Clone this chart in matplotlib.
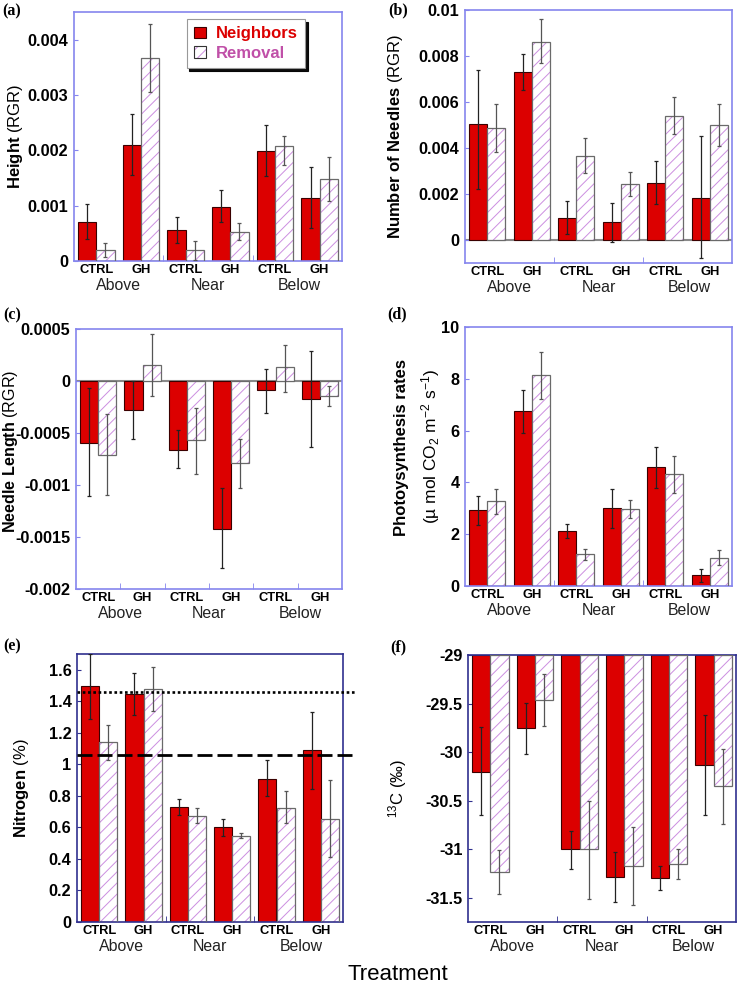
import matplotlib.pyplot as plt
import matplotlib.transforms as mtransforms
from matplotlib.patches import Patch
import numpy as np

plt.rcParams['font.family'] = ['Liberation Sans', 'DejaVu Sans']
plt.rcParams['mathtext.fontset'] = 'custom'
plt.rcParams['mathtext.rm'] = 'Liberation Sans'
plt.rcParams['mathtext.bf'] = 'Liberation Sans:bold'
plt.rcParams['mathtext.it'] = 'Liberation Sans:italic'
plt.rcParams['hatch.linewidth'] = 0.7

positions = ['Above', 'Near', 'Below']
treatments = ['CTRL', 'GH', 'CTRL', 'GH', 'CTRL', 'GH']

# (a) height RGR
height_nb = [0.0007, 0.0021, 0.00056, 0.00098, 0.00199, 0.00113]
height_nb_lo = [0.00039, 0.00156, 0.00032, 0.0007, 0.00154, 0.00059]
height_nb_hi = [0.00103, 0.00265, 0.0008, 0.00128, 0.00246, 0.00169]
height_rm = [0.0002, 0.00367, 0.0002, 0.00052, 0.00208, 0.00148]
height_rm_lo = [0.00007, 0.00306, 0.00002, 0.00038, 0.00173, 0.00109]
height_rm_hi = [0.00032, 0.00428, 0.00037, 0.00068, 0.00226, 0.00188]

# (b) number of needles RGR
needles_nb = [0.00504, 0.0073, 0.00096, 0.00079, 0.0025, 0.00183]
needles_nb_lo = [0.00222, 0.0065, 0.00024, -0.00007, 0.00158, -0.00079]
needles_nb_hi = [0.00741, 0.00809, 0.00168, 0.00161, 0.00342, 0.00452]
needles_rm = [0.00485, 0.00863, 0.00365, 0.00243, 0.00541, 0.00499]
needles_rm_lo = [0.00381, 0.00768, 0.00291, 0.00193, 0.0046, 0.00409]
needles_rm_hi = [0.0059, 0.0096, 0.00442, 0.00294, 0.00622, 0.0059]

# (c) needle length RGR
length_nb = [-0.0006, -0.00028, -0.00066, -0.00142, -0.00009, -0.000175]
length_nb_lo = [-0.00111, -0.00056, -0.00084, -0.0018, -0.00031, -0.00063]
length_nb_hi = [-0.00007, 0.0, -0.00047, -0.00103, 0.00012, 0.00029]
length_rm = [-0.000714, 0.000156, -0.00057, -0.00079, 0.00013, -0.00014]
length_rm_lo = [-0.0011, -0.00014, -0.00089, -0.00103, -0.00011, -0.00024]
length_rm_hi = [-0.00032, 0.00045, -0.00026, -0.00056, 0.00035, -0.00005]

# (d) photosynthesis
photo_nb = [2.92, 6.76, 2.12, 3.0, 4.6, 0.41]
photo_nb_lo = [2.34, 5.92, 1.84, 2.25, 3.8, 0.17]
photo_nb_hi = [3.49, 7.57, 2.41, 3.76, 5.37, 0.64]
photo_rm = [3.27, 8.15, 1.22, 2.96, 4.31, 1.09]
photo_rm_lo = [2.77, 7.22, 1.02, 2.64, 3.6, 0.81]
photo_rm_hi = [3.76, 9.05, 1.42, 3.31, 5.02, 1.39]

# (e) nitrogen
nitro_nb = [1.495, 1.444, 0.727, 0.6, 0.91, 1.088]
nitro_nb_lo = [1.29, 1.31, 0.68, 0.548, 0.8, 0.845]
nitro_nb_hi = [1.70, 1.58, 0.78, 0.655, 1.026, 1.33]
nitro_rm = [1.14, 1.48, 0.674, 0.548, 0.725, 0.653]
nitro_rm_lo = [1.03, 1.34, 0.63, 0.535, 0.625, 0.41]
nitro_rm_hi = [1.25, 1.62, 0.72, 0.565, 0.83, 0.9]
nitro_dotted = 1.458
nitro_dashed = 1.06

# (f) 13C
c13_nb = [-30.2, -29.757, -31.0, -31.29, -31.3, -30.13]
c13_nb_lo = [-30.647, -30.02, -31.2, -31.54, -31.42, -30.65]
c13_nb_hi = [-29.746, -29.49, -30.81, -31.03, -31.17, -29.62]
c13_rm = [-31.24, -29.464, -31.0, -31.17, -31.15, -30.35]
c13_rm_lo = [-31.46, -29.73, -31.51, -31.58, -31.31, -30.74]
c13_rm_hi = [-31.01, -29.196, -30.5, -30.77, -31.0, -29.97]

RED = '#dc0000'
HATCH = '#cc8ee0'
LIGHT = '#8585ee'
DARK = '#30308f'
x = np.arange(6)
w = 0.41

W, H = 737, 986
fig = plt.figure(figsize=(W / 100, H / 100), dpi=100)


def make_ax(l, t, r, b):
    return fig.add_axes([l / W, 1 - b / H, (r - l) / W, (b - t) / H])


def panel(ax, nb, nb_lo, nb_hi, rm, rm_lo, rm_hi, ylim, yticks, ylabels,
          base=0.0, spine=LIGHT, minor=(1.5, 3.5)):
    nb, rm = np.array(nb), np.array(rm)
    ax.bar(x - w / 2, nb - base, w, bottom=base, color=RED,
           edgecolor='#3a0000', lw=0.8, zorder=2)
    ax.bar(x + w / 2, rm - base, w, bottom=base, color='white',
           edgecolor=HATCH, hatch='///', lw=0, zorder=2)
    ax.bar(x + w / 2, rm - base, w, bottom=base, fill=False,
           edgecolor='#6a6a6a', lw=0.9, zorder=3)
    ax.errorbar(x - w / 2, nb, yerr=[nb - np.array(nb_lo), np.array(nb_hi) - nb],
                fmt='none', ecolor='#222222', elinewidth=0.9, capsize=1.5,
                capthick=0.9, zorder=4)
    ax.errorbar(x + w / 2, rm, yerr=[rm - np.array(rm_lo), np.array(rm_hi) - rm],
                fmt='none', ecolor='#555555', elinewidth=0.9, capsize=1.5,
                capthick=0.9, zorder=4)
    for s in ax.spines.values():
        s.set_color(spine)
        s.set_linewidth(1.2)
    ax.set_xlim(-0.5, 5.5)
    ax.set_ylim(*ylim)
    ax.set_xticks(x)
    ax.set_xticklabels(treatments, fontsize=9.3, fontweight='bold')
    ax.tick_params(axis='x', which='major', length=0, pad=2)
    ax.set_xticks(list(minor), minor=True)
    ax.tick_params(axis='x', which='minor', direction='in', length=4, color=spine)
    ax.set_yticks(yticks)
    ax.set_yticklabels(ylabels, fontsize=11.7, fontweight='bold')
    ax.tick_params(axis='y', direction='in', length=3, color=spine, pad=4)
    trans = mtransforms.blended_transform_factory(ax.transData, ax.transAxes)
    for gx, name in zip([0.5, 2.5, 4.55], positions):
        ax.annotate(name, xy=(gx, 0), xycoords=trans, xytext=(0, -17.5),
                    textcoords='offset points', ha='center', va='center',
                    fontsize=11.4, color='#222222')


# (a)
ax = make_ax(74, 12, 342, 261)
panel(ax, height_nb, height_nb_lo, height_nb_hi, height_rm, height_rm_lo, height_rm_hi,
      (0, 0.0045), [0, 0.001, 0.002, 0.003, 0.004],
      ['0', '0.001', '0.002', '0.003', '0.004'])
ax.set_ylabel(r'$\mathbf{Height}$ (RGR)', fontsize=12)
ax.yaxis.set_label_coords(-0.183, 0.5)
h_nb = Patch(facecolor=RED, edgecolor='#3a0000', lw=0.8)
h_rm1 = Patch(facecolor='white', edgecolor=HATCH, hatch='///', lw=0)
h_rm2 = Patch(fill=False, edgecolor='#333333', lw=0.8)
leg = ax.legend([h_nb, (h_rm1, h_rm2)], ['Neighbors', 'Removal'],
                loc='upper left', bbox_to_anchor=(0.42, 0.972), fontsize=12,
                handlelength=0.7, handleheight=0.7, handletextpad=0.6,
                borderpad=0.45, labelspacing=0.25, borderaxespad=0,
                fancybox=False, shadow={'color': 'black', 'alpha': 0.95},
                framealpha=1)
leg.get_frame().set_edgecolor('#999999')
leg.get_frame().set_linewidth(0.8)
leg_colors = [RED, '#c050a8']
for t, c in zip(leg.get_texts(), leg_colors):
    t.set_color(c)
    t.set_fontweight('bold')

# (b)
ax = make_ax(465, 10, 732, 263)
panel(ax, needles_nb, needles_nb_lo, needles_nb_hi, needles_rm, needles_rm_lo, needles_rm_hi,
      (-0.001, 0.01), [0, 0.002, 0.004, 0.006, 0.008, 0.01],
      ['0', '0.002', '0.004', '0.006', '0.008', '0.01'])
ax.axhline(0, color='#8a8a8a', lw=1.5, zorder=1)
ax.set_ylabel(r'$\mathbf{Number\ of\ Needles}$ (RGR)', fontsize=12)
ax.yaxis.set_label_coords(-0.225, 0.5)

# (c)
ax = make_ax(76, 329, 342, 589)
panel(ax, length_nb, length_nb_lo, length_nb_hi, length_rm, length_rm_lo, length_rm_hi,
      (-0.002, 0.0005), [-0.002, -0.0015, -0.001, -0.0005, 0, 0.0005],
      ['-0.002', '-0.0015', '-0.001', '-0.0005', '0', '0.0005'],
      minor=(0.5, 1.5, 2.5, 3.5, 4.5))
ax.axhline(0, color='#8a8a8a', lw=1.5, zorder=1)
ax.set_ylabel(r'$\mathbf{Needle\ Length}$ (RGR)', fontsize=11.6)
ax.yaxis.set_label_coords(-0.212, 0.53)

# (d)
ax = make_ax(465, 327, 732, 586)
panel(ax, photo_nb, photo_nb_lo, photo_nb_hi, photo_rm, photo_rm_lo, photo_rm_hi,
      (0, 10), [0, 2, 4, 6, 8, 10], ['0', '2', '4', '6', '8', '10'])
ax.text(-0.236, 0.533, 'Photoysynthesis rates', transform=ax.transAxes,
        rotation=90, ha='center', va='center', fontsize=12, fontweight='bold')
ax.text(-0.13, 0.54, '(µ mol CO$_2$ m$^{-2}$ s$^{-1}$)', transform=ax.transAxes,
        rotation=90, ha='center', va='center', fontsize=12.5)

# (e)
ax = make_ax(77, 654, 343, 922)
panel(ax, nitro_nb, nitro_nb_lo, nitro_nb_hi, nitro_rm, nitro_rm_lo, nitro_rm_hi,
      (0, 1.7), [0, 0.2, 0.4, 0.6, 0.8, 1.0, 1.2, 1.4, 1.6],
      ['0', '0.2', '0.4', '0.6', '0.8', '1', '1.2', '1.4', '1.6'], spine=DARK)
ax.plot([0, 1.045], [nitro_dotted] * 2, transform=mtransforms.blended_transform_factory(
    ax.transAxes, ax.transData), color='black', lw=1.9, dashes=(1, 1),
    clip_on=False, zorder=5)
ax.plot([0, 1.045], [nitro_dashed] * 2, transform=mtransforms.blended_transform_factory(
    ax.transAxes, ax.transData), color='black', lw=2.0, dashes=(5.4, 1.8),
    clip_on=False, zorder=5)
ax.set_ylabel(r'$\mathbf{Nitrogen}$ (%)', fontsize=12)
ax.yaxis.set_label_coords(-0.173, 0.5)

# (f)
ax = make_ax(468, 655, 736, 922)
panel(ax, c13_nb, c13_nb_lo, c13_nb_hi, c13_rm, c13_rm_lo, c13_rm_hi,
      (-31.75, -29), [-31.5, -31, -30.5, -30, -29.5, -29],
      ['-31.5', '-31', '-30.5', '-30', '-29.5', '-29'], base=-29, spine=DARK)
ax.set_ylabel('$^{13}$C (‰)', fontsize=12)
ax.yaxis.set_label_coords(-0.22, 0.5)

# panel letters
for lab, px, py in [('(a)', 12, 11), ('(b)', 398, 10), ('(c)', 12, 315),
                    ('(d)', 397, 314), ('(e)', 12, 646), ('(f)', 398, 647)]:
    fig.text(px / W, 1 - py / H, lab, ha='center', va='center', fontsize=11.5,
             fontweight='bold', family='Liberation Serif')

fig.text(398 / W, 1 - 975 / H, 'Treatment', ha='center', va='center', fontsize=16)

fig.savefig('out.png', dpi=100)
